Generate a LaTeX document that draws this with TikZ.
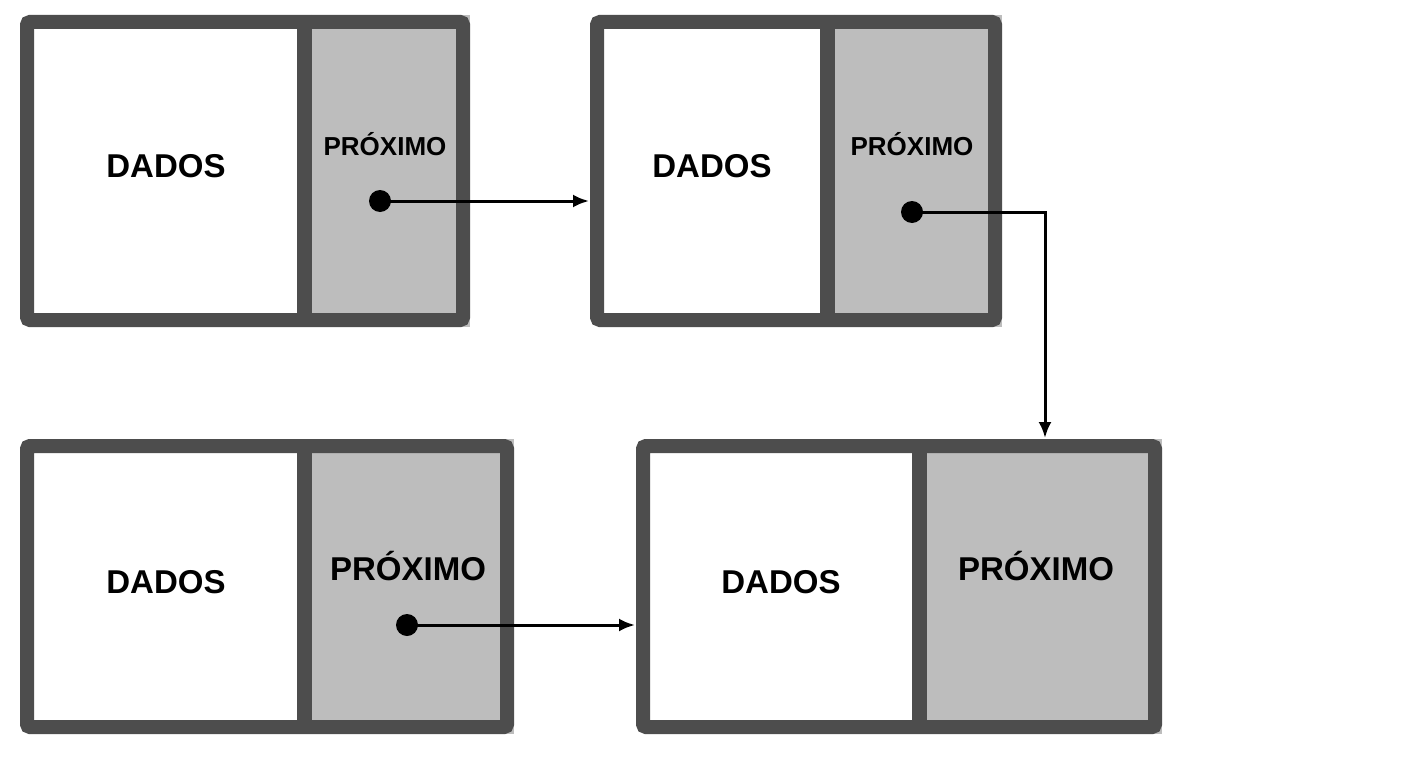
\documentclass[tikz,border=0pt]{standalone}
\usepackage{fontspec}
\setmainfont{Liberation Sans}
\usetikzlibrary{arrows.meta}
\definecolor{frame}{HTML}{4D4D4D}
\definecolor{cell}{HTML}{BDBDBD}
\tikzset{
  frm/.style={draw=frame,line width=14pt,rounded corners=3pt},
  dv/.style={draw=frame,line width=15pt},
  dot/.style={circle,fill=black,inner sep=0pt,minimum size=22pt},
  lnk/.style={line width=3pt,-{Latex[length=16pt,width=13pt]}},
  lbl/.style={font=\bfseries}
}
\begin{document}
\begin{tikzpicture}[x=1pt,y=-1pt]
\useasboundingbox (0,0) rectangle (1408,768);
\fill[white] (0,0) rectangle (1408,768);
% node macro-ish: box x1,y1,x2,y2,divider
\foreach \a/\b/\c/\d/\e in {20/15/470/327/304.5, 590/15/1002/327/827.5, 20/439/514/734/304.5, 636/439/1162/734/919.5}{
  \fill[cell] (\e,\b) rectangle (\c,\d);
  \draw[dv] (\e,\b) -- (\e,\d);
  \draw[frm] (\a+7,\b+7) rectangle (\c-7,\d-7);
}
\node[lbl,font=\bfseries\fontsize{33}{33}\selectfont] (d1) at (166,166) {DADOS};
\node[lbl,font=\bfseries\fontsize{26}{26}\selectfont] (p1) at (385,144) {PRÓXIMO};
\node[lbl,font=\bfseries\fontsize{33}{33}\selectfont] (d2) at (712,166) {DADOS};
\node[lbl,font=\bfseries\fontsize{26}{26}\selectfont] (p2) at (912,144) {PRÓXIMO};
\node[lbl,font=\bfseries\fontsize{33}{33}\selectfont] (d3) at (166,582) {DADOS};
\node[lbl,font=\bfseries\fontsize{33}{33}\selectfont] (p3) at (408,566) {PRÓXIMO};
\node[lbl,font=\bfseries\fontsize{33}{33}\selectfont] (d4) at (781,582) {DADOS};
\node[lbl,font=\bfseries\fontsize{33}{33}\selectfont] (p4) at (1036,566) {PRÓXIMO};
\node[dot] (s1) at (380,201) {};
\node[dot] (s2) at (912,212) {};
\node[dot] (s3) at (407,625) {};
\coordinate (t1) at (589,201);
\coordinate (t2) at (1045,438);
\coordinate (t3) at (635,625);
\draw[lnk] (s1.center) -- (t1);
\draw[lnk] (s2.center) -| (t2);
\draw[lnk] (s3.center) -- (t3);
\end{tikzpicture}
\end{document}
